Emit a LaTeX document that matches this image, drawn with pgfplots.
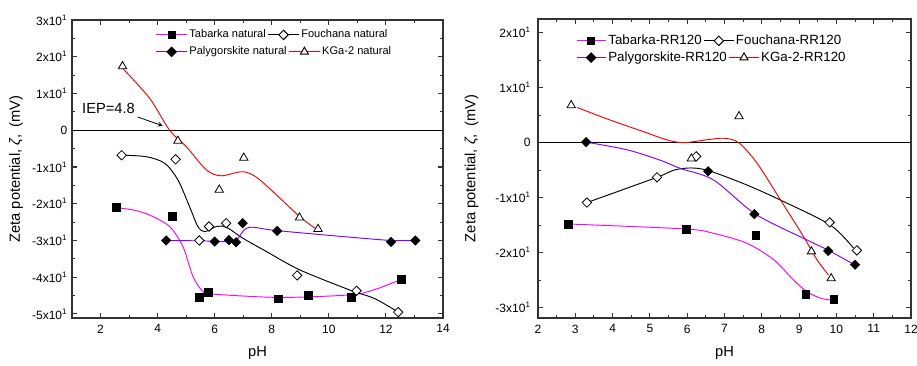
\documentclass[border=0pt]{standalone}
\usepackage{fontspec}
\setmainfont{Liberation Sans}
\usepackage{pgfplots}
\pgfplotsset{compat=1.18}
\definecolor{mymag}{RGB}{255,0,255}
\definecolor{myvio}{RGB}{128,0,255}
\definecolor{myred}{RGB}{255,0,0}
\newcommand{\lf}{\fontsize{8.3}{10}\selectfont}
\newcommand{\lfr}{\fontsize{10}{12}\selectfont}
\pgfplotsset{
  myaxis/.style={
    scale only axis,
    axis line style={line width=0.9pt, black!80},
    tick align=inside,
    major tick length=4pt, minor tick length=2.2pt,
    every tick/.style={line width=0.8pt, black!80},
    tick label style={font=\fontsize{9}{10}\selectfont},
    xticklabel style={yshift=-1.5pt},
    /pgf/number format/assume math mode=true,
    label style={font=\fontsize{11}{13}\selectfont},
    xlabel={pH},
    ylabel={Zeta potential, \textit{ζ},\enspace(mV)},
    xlabel style={yshift=-3pt},
    minor y tick num=1,
  },
  mylegend/.style={
    legend columns=2,
    legend cell align=left,
    legend style={draw=none, fill=none, font=\lf, inner sep=0pt, outer sep=0pt,
      column sep=0pt, nodes={inner sep=1.5pt}},
    legend image code/.code={\draw[mark repeat=2,mark phase=2,##1] plot coordinates {(0pt,0pt) (11.5pt,0pt) (23pt,0pt)};},
  },
  hidax/.style={scale only axis, hide axis, xmin=0, xmax=1, ymin=0, ymax=1, mylegend},
  sq/.style={only marks, mark=square*, mark size=2.9pt, mark options={black, fill=black}},
  odia/.style={only marks, mark=square*, mark size=2.5pt, mark options={black, fill=white, rotate=45, line width=0.6pt}},
  fdia/.style={only marks, mark=square*, mark size=2.5pt, mark options={black, fill=black, rotate=45}},
  otri/.style={only marks, mark=triangle*, mark size=3.6pt, mark options={black, fill=white, line width=0.6pt}},
  crv/.style={smooth, no marks, line width=0.7pt, forget plot},
  lsq/.style={mymag, line width=0.7pt, mark=square*, mark size=2.7pt, mark options={black, fill=black}},
  lodia/.style={black, line width=0.7pt, mark=square*, mark size=2.5pt, mark options={black, fill=white, rotate=45}},
  lfdia/.style={myvio, line width=0.7pt, mark=square*, mark size=2.5pt, mark options={black, fill=black, rotate=45}},
  lotri/.style={myred, line width=0.7pt, mark=triangle*, mark size=3.5pt, mark options={black, fill=white}},
}
\begin{document}
\begin{tikzpicture}
\useasboundingbox (0pt,0pt) rectangle (687.75pt,273.75pt);
% ---------------- left panel ----------------
\begin{axis}[myaxis, mylegend,
  at={(54pt,35.25pt)}, anchor=south west,
  width=278.25pt, height=223.5pt,
  xmin=1, xmax=14, ymin=-51.1, ymax=30,
  xtick={2,4,...,14}, minor x tick num=1,
  ytick={-50,-40,...,30},
  yticklabels={-5x10\textsuperscript{1},-4x10\textsuperscript{1},-3x10\textsuperscript{1},-2x10\textsuperscript{1},-1x10\textsuperscript{1},0,1x10\textsuperscript{1},2x10\textsuperscript{1},3x10\textsuperscript{1}},
  legend style={at={(0.226,0.950)}, anchor=west},
]
\addlegendimage{lsq}
\addlegendentry{Tabarka natural}
\addlegendimage{lodia}
\addlegendentry{Fouchana natural}
\addplot[black, line width=0.8pt, forget plot] coordinates {(1,0) (14,0)};
% curves
\addplot[crv, mymag] coordinates {(2.61,-21.1) (3.2,-21.8) (3.72,-23.1) (4.42,-26.2) (4.89,-31.7) (5.24,-39.8) (5.59,-43.9) (5.94,-44.6) (8.28,-45.5) (10.74,-44.8) (11.6,-43.4) (12.54,-40.6)};
\addplot[crv, black] coordinates {(2.74,-6.8) (3.60,-7.2) (4.25,-9.0) (4.71,-13.5) (5.12,-20.8) (5.41,-26.2) (5.65,-27.6) (6.06,-26.2) (6.41,-26.4) (6.99,-29.4) (7.81,-33.0) (8.98,-38.0) (10.74,-43.5) (11.6,-45.8) (12.43,-49.5)};
\addplot[crv, myvio] coordinates {(4.30,-30.0) (5.49,-30.1) (6.64,-30.3) (6.82,-29.4) (7.05,-27.0) (7.34,-26.4) (8.16,-27.3) (10.74,-29.1) (12.18,-30.0) (13.03,-30.0)};
\addplot[crv, myred] coordinates {(2.77,16.9) (3.72,8.7) (4.42,0) (5.01,-4.5) (5.71,-10.8) (6.23,-12.4) (6.99,-11.3) (7.58,-13.5) (8.98,-23.5) (9.62,-27.2)};
% data
\addplot[sq, forget plot] coordinates {(2.54,-21.0) (4.51,-23.5) (5.46,-45.4) (5.78,-44.1) (8.23,-45.9) (9.27,-44.9) (10.78,-45.4) (12.54,-40.6)};
\addplot[odia, forget plot] coordinates {(2.74,-6.8) (4.63,-7.9) (5.46,-30.0) (5.80,-26.2) (6.40,-25.3) (8.89,-39.5) (10.97,-43.7) (12.43,-49.5)};
\addplot[fdia, forget plot] coordinates {(4.30,-30.0) (6.0,-30.3) (6.50,-29.9) (6.75,-30.5) (6.98,-25.3) (8.19,-27.4) (12.18,-30.4) (13.03,-30.0)};
\addplot[otri, forget plot] coordinates {(2.77,17.4) (4.71,-2.9) (6.16,-16.2) (7.02,-7.5) (8.97,-23.8) (9.62,-26.9)};
\node[font=\fontsize{11}{13}\selectfont] at (axis cs:2.28,5.8) {IEP=4.8};
\draw[-stealth, line width=0.6pt] (axis cs:3.3,3.6) -- (axis cs:4.18,1.2);
\end{axis}
\begin{axis}[hidax, at={(54pt,35.25pt)}, anchor=south west,
  width=278.25pt, height=223.5pt,
  legend style={at={(0.226,0.893)}, anchor=west}]
\addlegendimage{lfdia}
\addlegendentry{Palygorskite natural}
\addlegendimage{lotri}
\addlegendentry{KGa-2 natural}
\end{axis}
% ---------------- right panel ----------------
\begin{axis}[myaxis, mylegend,
  at={(403.5pt,35.25pt)}, anchor=south west,
  width=279.75pt, height=224.25pt,
  xmin=2, xmax=12, ymin=-31.9, ymax=22.5,
  xtick={2,3,...,12}, minor x tick num=1,
  ytick={-30,-20,...,20},
  yticklabels={-3x10\textsuperscript{1},-2x10\textsuperscript{1},-1x10\textsuperscript{1},0,1x10\textsuperscript{1},2x10\textsuperscript{1}},
  ylabel style={yshift=6pt},
  yticklabel style={xshift=-2pt},
  legend style={at={(0.102,0.927)}, anchor=west, font=\lfr},
  legend image code/.code={\draw[mark repeat=2,mark phase=2,#1] plot coordinates {(0pt,0pt) (11pt,0pt) (22pt,0pt)};},
]
\addlegendimage{lsq}
\addlegendentry{Tabarka-RR120}
\addlegendimage{lodia}
\addlegendentry{Fouchana-RR120}
\addplot[black, line width=0.8pt, forget plot] coordinates {(2,0) (12,0)};
% curves
\addplot[crv, mymag] coordinates {(2.82,-14.8) (5.95,-15.7) (6.71,-16.5) (7.60,-18.3) (8.32,-21.3) (8.85,-25.0) (9.21,-27.1) (9.57,-28.3) (9.84,-28.6)};
\addplot[crv, black] coordinates {(3.31,-10.9) (5.19,-6.3) (5.64,-5.0) (6.10,-4.6) (6.58,-5.1) (7.60,-7.7) (8.58,-10.7) (9.84,-15.0) (10.46,-19.2)};
\addplot[crv, myvio] coordinates {(3.29,0.1) (4.39,-1.3) (5.28,-3.2) (5.82,-4.7) (6.71,-6.8) (7.83,-13.0) (9.21,-17.7) (9.79,-19.6) (10.48,-22.2)};
\addplot[crv, myred] coordinates {(3.05,6.4) (3.94,4.1) (4.83,2.0) (5.46,0.5) (5.90,0) (6.50,0.5) (6.98,0.8) (7.38,0.0) (7.87,-3.7) (8.50,-10.4) (9.12,-17.1) (9.48,-21.3) (9.79,-24.1)};
% data
\addplot[sq, forget plot] coordinates {(2.82,-14.8) (5.97,-15.8) (7.84,-16.8) (9.18,-27.6) (9.93,-28.5)};
\addplot[odia, forget plot] coordinates {(3.31,-10.9) (5.19,-6.3) (6.24,-2.5) (9.82,-14.5) (10.55,-19.6)};
\addplot[fdia, forget plot] coordinates {(3.29,0.1) (6.56,-5.2) (7.80,-13.0) (9.78,-19.7) (10.50,-22.2)};
\addplot[otri, forget plot] coordinates {(2.89,6.8) (6.11,-2.9) (7.39,4.8) (9.33,-19.8) (9.86,-24.7)};
\end{axis}
\begin{axis}[hidax, at={(403.5pt,35.25pt)}, anchor=south west,
  width=279.75pt, height=224.25pt,
  legend style={at={(0.102,0.871)}, anchor=west, font=\lfr},
  legend image code/.code={\draw[mark repeat=2,mark phase=2,#1] plot coordinates {(0pt,0pt) (11pt,0pt) (22pt,0pt)};}]
\addlegendimage{lfdia}
\addlegendentry{Palygorskite-RR120}
\addlegendimage{lotri}
\addlegendentry{KGa-2-RR120}
\end{axis}
\end{tikzpicture}
\end{document}
